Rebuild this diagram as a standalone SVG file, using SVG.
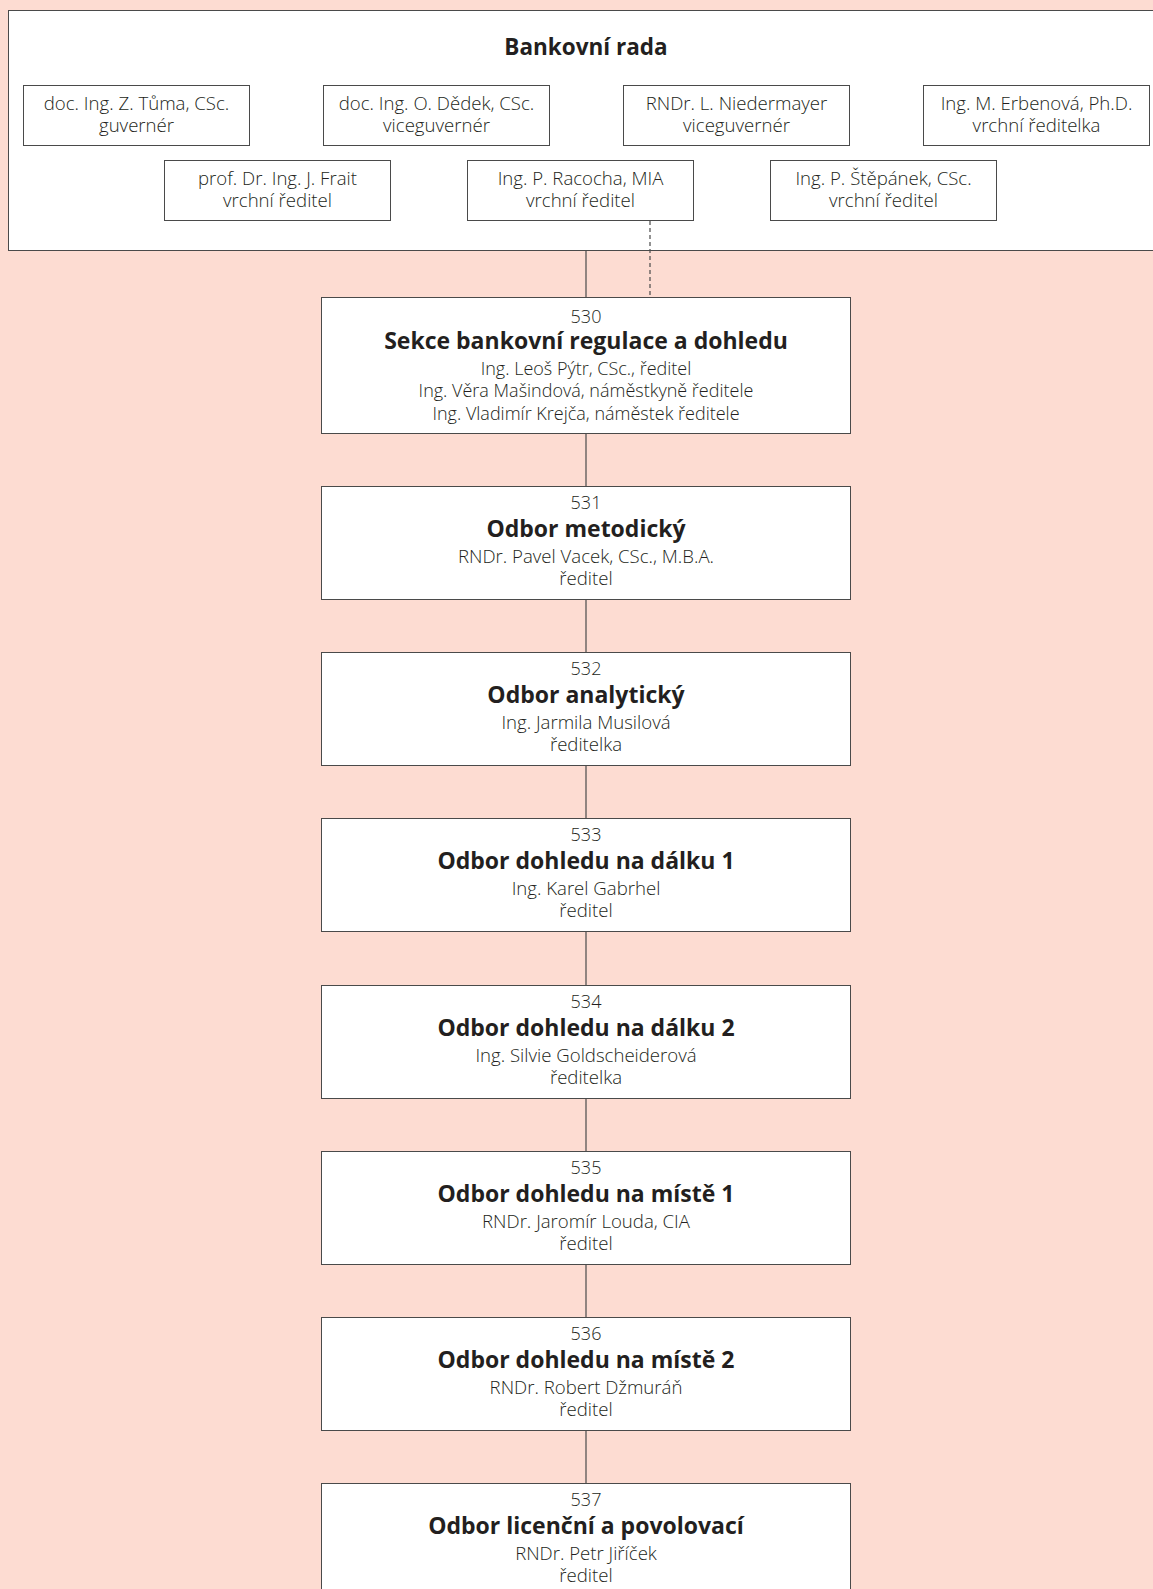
<svg xmlns="http://www.w3.org/2000/svg" width="1153" height="1589" viewBox="0 0 1153 1589">
<style>
text{font-family:"Open Sans","Noto Sans","Liberation Sans",sans-serif;fill:#231f20;text-anchor:middle}
.n{font-size:18px;font-weight:300}
.t{font-size:23px;font-weight:bold}
.h{font-size:22.5px;font-weight:bold}
.s{font-size:18.6px;font-weight:300}
.s5{font-size:18px;font-weight:300}
.box{fill:#fff;stroke:#4a4a4a;stroke-width:1}
.ln{stroke:#4a4a4a;stroke-width:1.2;fill:none}
.dash{stroke:#4a4a4a;stroke-width:1.2;fill:none;stroke-dasharray:4 3}
</style>
<rect x="0" y="0" width="1153" height="1589" fill="#fddcd2"/>
<g id="bankovni-rada">
<rect class="box" x="8.5" y="10.5" width="1160" height="240"/>
<text class="h" x="586" y="55">Bankovní rada</text>
</g>
<g id="tuma"><rect class="box" x="23.5" y="85.5" width="226" height="60"/><text class="s" x="136.5" y="110">doc. Ing. Z. Tůma, CSc.</text><text class="s" x="136.5" y="132">guvernér</text></g>
<g id="dedek"><rect class="box" x="323.5" y="85.5" width="226" height="60"/><text class="s" x="436.5" y="110">doc. Ing. O. Dědek, CSc.</text><text class="s" x="436.5" y="132">viceguvernér</text></g>
<g id="niedermayer"><rect class="box" x="623.5" y="85.5" width="226" height="60"/><text class="s" x="736.5" y="110">RNDr. L. Niedermayer</text><text class="s" x="736.5" y="132">viceguvernér</text></g>
<g id="erbenova"><rect class="box" x="923.5" y="85.5" width="226" height="60"/><text class="s" x="1036.5" y="110">Ing. M. Erbenová, Ph.D.</text><text class="s" x="1036.5" y="132">vrchní ředitelka</text></g>
<g id="frait"><rect class="box" x="164.5" y="160.5" width="226" height="60"/><text class="s" x="277.5" y="185">prof. Dr. Ing. J. Frait</text><text class="s" x="277.5" y="207">vrchní ředitel</text></g>
<g id="racocha"><rect class="box" x="467.5" y="160.5" width="226" height="60"/><text class="s" x="580.5" y="185">Ing. P. Racocha, MIA</text><text class="s" x="580.5" y="207">vrchní ředitel</text></g>
<g id="stepanek"><rect class="box" x="770.5" y="160.5" width="226" height="60"/><text class="s" x="883.5" y="185">Ing. P. Štěpánek, CSc.</text><text class="s" x="883.5" y="207">vrchní ředitel</text></g>
<g id="connectors">
<line class="ln" x1="586" y1="251" x2="586" y2="297"/>
<line class="dash" x1="650" y1="221" x2="650" y2="297"/>
<line class="ln" x1="586" y1="433" x2="586" y2="486"/>
<line class="ln" x1="586" y1="599" x2="586" y2="652"/>
<line class="ln" x1="586" y1="765" x2="586" y2="818"/>
<line class="ln" x1="586" y1="931" x2="586" y2="985"/>
<line class="ln" x1="586" y1="1098" x2="586" y2="1151"/>
<line class="ln" x1="586" y1="1264" x2="586" y2="1317"/>
<line class="ln" x1="586" y1="1430" x2="586" y2="1483"/>
</g>
<g id="n530"><rect class="box" x="321.5" y="297.5" width="529" height="136"/>
<text class="n" x="586" y="323">530</text>
<text class="t" x="586" y="349">Sekce bankovní regulace a dohledu</text>
<text class="s5" x="586" y="375">Ing. Leoš Pýtr, CSc., ředitel</text>
<text class="s5" x="586" y="397">Ing. Věra Mašindová, náměstkyně ředitele</text>
<text class="s5" x="586" y="420">Ing. Vladimír Krejča, náměstek ředitele</text></g>
<g id="n531"><rect class="box" x="321.5" y="486.5" width="529" height="113"/>
<text class="n" x="586" y="509">531</text><text class="t" x="586" y="537">Odbor metodický</text><text class="s" x="586" y="563">RNDr. Pavel Vacek, CSc., M.B.A.</text><text class="s" x="586" y="585">ředitel</text></g>
<g id="n532"><rect class="box" x="321.5" y="652.5" width="529" height="113"/>
<text class="n" x="586" y="675">532</text><text class="t" x="586" y="703">Odbor analytický</text><text class="s" x="586" y="729">Ing. Jarmila Musilová</text><text class="s" x="586" y="751">ředitelka</text></g>
<g id="n533"><rect class="box" x="321.5" y="818.5" width="529" height="113"/>
<text class="n" x="586" y="841">533</text><text class="t" x="586" y="869">Odbor dohledu na dálku 1</text><text class="s" x="586" y="895">Ing. Karel Gabrhel</text><text class="s" x="586" y="917">ředitel</text></g>
<g id="n534"><rect class="box" x="321.5" y="985.5" width="529" height="113"/>
<text class="n" x="586" y="1008">534</text><text class="t" x="586" y="1036">Odbor dohledu na dálku 2</text><text class="s" x="586" y="1062">Ing. Silvie Goldscheiderová</text><text class="s" x="586" y="1084">ředitelka</text></g>
<g id="n535"><rect class="box" x="321.5" y="1151.5" width="529" height="113"/>
<text class="n" x="586" y="1174">535</text><text class="t" x="586" y="1202">Odbor dohledu na místě 1</text><text class="s" x="586" y="1228">RNDr. Jaromír Louda, CIA</text><text class="s" x="586" y="1250">ředitel</text></g>
<g id="n536"><rect class="box" x="321.5" y="1317.5" width="529" height="113"/>
<text class="n" x="586" y="1340">536</text><text class="t" x="586" y="1368">Odbor dohledu na místě 2</text><text class="s" x="586" y="1394">RNDr. Robert Džmuráň</text><text class="s" x="586" y="1416">ředitel</text></g>
<g id="n537"><rect class="box" x="321.5" y="1483.5" width="529" height="120"/>
<text class="n" x="586" y="1506">537</text><text class="t" x="586" y="1534">Odbor licenční a povolovací</text><text class="s" x="586" y="1560">RNDr. Petr Jiříček</text><text class="s" x="586" y="1582">ředitel</text></g>
</svg>
